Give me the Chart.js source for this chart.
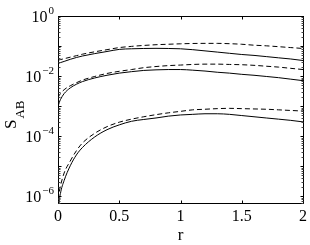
<!DOCTYPE html>
<html>
<head>
<meta charset="utf-8">
<script src="https://cdn.jsdelivr.net/npm/chart.js@4/dist/chart.umd.min.js"></script>
<style>
  html, body { margin: 0; padding: 0; background: #fff; }
  canvas { display: block; }
</style>
</head>
<body>
<canvas id="c" width="310" height="245"></canvas>
<script>
// r grid (x values)
const r = [0, 0.01, 0.02, 0.05, 0.1, 0.15, 0.2, 0.3, 0.4, 0.5, 0.6, 0.7, 0.8, 0.9, 1.0, 1.1, 1.2, 1.3, 1.4, 1.5, 1.6, 1.7, 1.8, 1.9, 2.0];

// Upper pair
const topSolid  = [2.63e-2, 2.72e-2, 2.82e-2, 3.09e-2, 3.63e-2, 4.17e-2, 4.68e-2, 5.62e-2, 6.61e-2, 7.76e-2, 8.13e-2, 8.32e-2, 8.41e-2, 8.32e-2, 8.13e-2, 7.59e-2, 6.92e-2, 6.31e-2, 5.75e-2, 5.25e-2, 4.90e-2, 4.47e-2, 4.07e-2, 3.72e-2, 3.31e-2];
const topDashed = [3.39e-2, 3.47e-2, 3.55e-2, 3.80e-2, 4.27e-2, 4.79e-2, 5.37e-2, 6.46e-2, 7.59e-2, 8.91e-2, 9.77e-2, 1.05e-1, 1.11e-1, 1.15e-1, 1.19e-1, 1.22e-1, 1.23e-1, 1.23e-1, 1.20e-1, 1.15e-1, 1.07e-1, 1.02e-1, 9.55e-2, 8.91e-2, 8.32e-2];

// Middle pair
const midSolid  = [9.55e-4, 1.32e-3, 1.66e-3, 2.63e-3, 4.07e-3, 5.37e-3, 6.61e-3, 8.71e-3, 1.07e-2, 1.26e-2, 1.41e-2, 1.55e-2, 1.62e-2, 1.66e-2, 1.66e-2, 1.58e-2, 1.48e-2, 1.35e-2, 1.26e-2, 1.15e-2, 1.07e-2, 9.77e-3, 8.91e-3, 7.94e-3, 7.08e-3];
const midDashed = [1.95e-3, 2.29e-3, 2.63e-3, 3.55e-3, 4.79e-3, 6.03e-3, 7.41e-3, 9.77e-3, 1.23e-2, 1.45e-2, 1.66e-2, 1.91e-2, 2.09e-2, 2.24e-2, 2.34e-2, 2.45e-2, 2.51e-2, 2.51e-2, 2.45e-2, 2.40e-2, 2.29e-2, 2.14e-2, 2.00e-2, 1.82e-2, 1.66e-2];

// Lower pair
const lowSolid  = [1e-7, 6.31e-7, 1.26e-6, 3.39e-6, 1.05e-5, 2.40e-5, 4.27e-5, 9.55e-5, 1.66e-4, 2.40e-4, 3.16e-4, 3.63e-4, 4.07e-4, 4.68e-4, 5.13e-4, 5.37e-4, 5.62e-4, 5.62e-4, 5.37e-4, 4.90e-4, 4.47e-4, 4.07e-4, 3.72e-4, 3.39e-4, 3.02e-4];
const lowDashed = [7.94e-7, 1.41e-6, 2.24e-6, 6.03e-6, 1.51e-5, 3.31e-5, 6.03e-5, 1.26e-4, 2.09e-4, 2.95e-4, 3.72e-4, 4.47e-4, 5.25e-4, 6.03e-4, 6.76e-4, 7.59e-4, 7.94e-4, 8.32e-4, 8.51e-4, 8.32e-4, 8.13e-4, 7.94e-4, 7.59e-4, 7.24e-4, 6.92e-4];

// Axis ticks / labels
const xTicks = [0, 0.5, 1, 1.5, 2];
const xTickLabels = ['0', '0.5', '1', '1.5', '2'];
const yMajorTicks = [1, 1e-1, 1e-2, 1e-3, 1e-4, 1e-5, 1e-6];
const yLabelValues = [1, 1e-2, 1e-4, 1e-6];
const yLabelExps = ['0', '\u22122', '\u22124', '\u22126'];
const xTitle = 'r';
const yTitleMain = 'S';
const yTitleSub = 'AB';

const yMin = 5.62e-7, yMax = 1;

function series(vals, dashed) {
  return {
    data: r.map((x, i) => ({ x: x, y: vals[i] })),
    borderColor: '#000',
    borderWidth: 1,
    borderDash: dashed ? [5, 3] : [],
    pointRadius: 0,
    fill: false,
    cubicInterpolationMode: 'monotone'
  };
}

const SERIF = '"Liberation Serif", "DejaVu Serif", serif';

const axesPlugin = {
  id: 'matlabAxes',
  afterDraw(chart) {
    const ctx = chart.ctx;
    const xs = chart.scales.x, ys = chart.scales.y;
    const L = Math.round(xs.left) + 0.5, R = Math.round(xs.right) + 0.5;
    const T = Math.round(ys.top) + 0.5, B = Math.round(ys.bottom) - 0.5;
    ctx.save();
    ctx.strokeStyle = '#000';
    ctx.lineWidth = 1;
    ctx.strokeRect(L, T, R - L, B - T);

    // x ticks (inside, top and bottom)
    ctx.beginPath();
    xTicks.forEach(v => {
      const px = Math.round(xs.getPixelForValue(v)) + 0.5;
      ctx.moveTo(px, B); ctx.lineTo(px, B - 3);
      ctx.moveTo(px, T); ctx.lineTo(px, T + 3);
    });
    // y major ticks
    yMajorTicks.forEach(v => {
      const py = Math.round(ys.getPixelForValue(v)) + 0.5;
      ctx.moveTo(L, py); ctx.lineTo(L + 3, py);
      ctx.moveTo(R, py); ctx.lineTo(R - 3, py);
    });
    ctx.stroke();
    // y minor ticks
    ctx.beginPath();
    ctx.strokeStyle = '#444';
    for (let e = -7; e < 0; e++) {
      for (let m = 2; m <= 9; m++) {
        const v = m * Math.pow(10, e);
        if (v < yMin || v > yMax) continue;
        const py = Math.round(ys.getPixelForValue(v)) + 0.5;
        ctx.moveTo(L, py); ctx.lineTo(L + 2, py);
        ctx.moveTo(R, py); ctx.lineTo(R - 2, py);
      }
    }
    ctx.stroke();

    ctx.fillStyle = '#000';
    // x tick labels
    ctx.font = '16px ' + SERIF;
    ctx.textAlign = 'center';
    ctx.textBaseline = 'alphabetic';
    xTicks.forEach((v, i) => {
      ctx.fillText(xTickLabels[i], xs.getPixelForValue(v), 221);
    });
    // x title
    ctx.font = '17px ' + SERIF;
    ctx.fillText(xTitle, (xs.left + xs.right) / 2, 240);

    // y tick labels: 10^exp
    yLabelValues.forEach((v, i) => {
      const py = ys.getPixelForValue(v);
      ctx.font = '11px ' + SERIF;
      const ew = ctx.measureText(yLabelExps[i]).width;
      const right = 54;
      ctx.textAlign = 'right';
      ctx.fillText(yLabelExps[i], right, py - 2);
      ctx.font = '16px ' + SERIF;
      ctx.fillText('10', right - ew - 1, py + 6);
    });

    // y title S_AB rotated
    ctx.translate(16, 129);
    ctx.rotate(-Math.PI / 2);
    ctx.textAlign = 'left';
    ctx.font = '17px ' + SERIF;
    ctx.fillText(yTitleMain, 0, 0);
    const sw = ctx.measureText(yTitleMain).width;
    ctx.font = '13px ' + SERIF;
    ctx.fillText(yTitleSub, sw + 1, 8);
    ctx.restore();
  }
};

new Chart(document.getElementById('c'), {
  type: 'line',
  data: {
    datasets: [
      series(topSolid, false), series(topDashed, true),
      series(midSolid, false), series(midDashed, true),
      series(lowSolid, false), series(lowDashed, true)
    ]
  },
  options: {
    responsive: false,
    animation: false,
    layout: { padding: { left: 58, right: 7, top: 16, bottom: 41 } },
    plugins: { legend: { display: false }, tooltip: { enabled: false } },
    scales: {
      x: { type: 'linear', min: 0, max: 2, display: false },
      y: { type: 'logarithmic', min: yMin, max: yMax, display: false }
    }
  },
  plugins: [axesPlugin]
});
</script>
</body>
</html>
